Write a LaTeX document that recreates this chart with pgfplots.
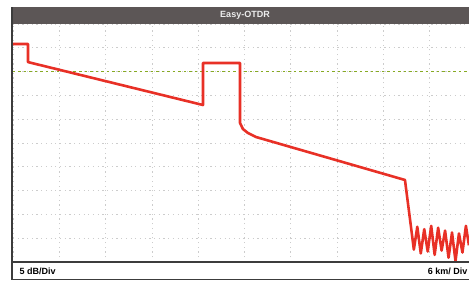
\documentclass[border=0pt]{standalone}
\usepackage{pgfplots}
\pgfplotsset{compat=1.18}
\usepackage{fontspec}
\setmainfont{Liberation Sans}
\definecolor{trace}{RGB}{232,48,38}
\definecolor{barbg}{RGB}{92,86,86}
\definecolor{frame}{RGB}{60,60,60}
\definecolor{refl}{RGB}{135,170,35}
\begin{document}
\begin{tikzpicture}[x=1pt,y=1pt]
\useasboundingbox (0,0) rectangle (469,281);
\begin{axis}[
  at={(13pt,19pt)}, anchor=south west,
  scale only axis, width=456pt, height=238pt,
  xmin=0, xmax=59.1, ymin=0, ymax=50,
  xtick={0,6,...,60}, ytick={0,5,...,50},
  xticklabels={}, yticklabels={},
  major tick length=0pt,
  grid=major,
  grid style={dash pattern=on 1.2pt off 3.5pt, gray!40, line width=0.7pt},
  axis line style={draw=none},
  clip=true,
]
\addplot[refl, dash pattern=on 2.5pt off 3pt, line width=1.3pt, forget plot] coordinates {(0,40) (59.1,40)};
\addplot[trace, line width=2.6pt, line join=round] coordinates {
(0,45.8) (1.94,45.8) (1.94,42.0) (24.62,32.98) (24.62,41.8) (29.42,41.8)
(29.42,29.2) (29.8,27.94) (30.45,27.1) (31.49,26.26) (50.80,17.23)
(51.55,7.77) (51.95,2.6) (52.40,7.4) (52.85,1.8) (53.30,6.9)
(53.75,2.2) (54.20,7.6) (54.65,1.5) (55.10,7.2) (55.55,2.4)
(56.00,6.6) (56.45,0.9) (56.90,6.2) (57.35,0.2) (57.80,6.0)
(58.25,2.0) (58.70,7.6) (59.09,3.5)
};
\end{axis}
% title bar
\fill[barbg] (12,257) rectangle (469,274);
\node[text=white!85!gray, font=\bfseries\fontsize{9}{10}\selectfont] at (245,265.5) {Easy-OTDR};
% bottom bar
\draw[frame, line width=1.2pt] (12,19) -- (469,19);
\draw[frame, line width=1pt] (12,1.5) -- (469,1.5);
\node[anchor=west, font=\bfseries\fontsize{9}{10}\selectfont] at (16,10) {5 dB/Div};
\node[anchor=east, font=\bfseries\fontsize{9}{10}\selectfont] at (471,10) {6 km/ Div};
% left frame
\draw[frame, line width=1.5pt] (12,1) -- (12,274);
\end{tikzpicture}
\end{document}
